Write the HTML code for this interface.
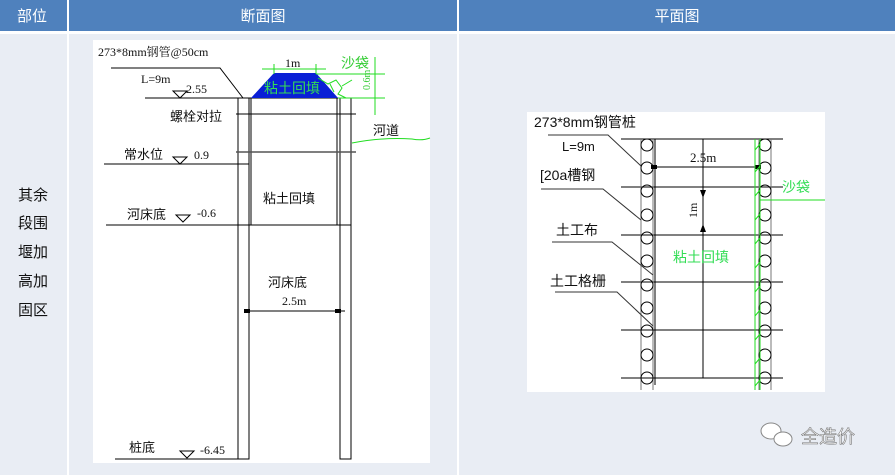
<!DOCTYPE html>
<html><head><meta charset="utf-8"><style>
html,body{margin:0;padding:0;background:#e9edf4;}
svg{display:block}
text{font-family:"Liberation Sans","Noto Sans CJK SC",sans-serif;}
.s{font-family:"Liberation Serif","Noto Serif CJK SC",serif;}
</style></head><body>
<svg width="895" height="475" viewBox="0 0 895 475" xmlns="http://www.w3.org/2000/svg">
<rect x="0" y="0" width="895" height="475" fill="#e9edf4"/>
<rect x="0" y="0" width="895" height="31" fill="#4f81bd"/>
<rect x="0" y="31" width="895" height="3" fill="#fff"/>
<rect x="67" y="0" width="2" height="475" fill="#fff"/>
<rect x="457" y="0" width="2" height="475" fill="#fff"/>
<g fill="#fff" font-size="15" text-anchor="middle">
<text x="32" y="21">部位</text><text x="263" y="21">断面图</text><text x="677" y="21">平面图</text>
</g>
<g font-size="15" fill="#111" text-anchor="middle">
<text x="33" y="200">其余</text><text x="33" y="228">段围</text><text x="33" y="257">堰加</text><text x="33" y="286">高加</text><text x="33" y="315">固区</text>
</g>
<!-- left drawing -->
<rect x="93" y="40" width="337" height="423" fill="#fff"/>
<g stroke="#000" stroke-width="1" fill="none">
<polyline points="111,68 220,68 243,98"/>
<line x1="145" y1="98" x2="360" y2="98"/>
<line x1="104" y1="164" x2="249" y2="164"/>
<line x1="106" y1="225" x2="351" y2="225"/>
<line x1="115" y1="459" x2="238" y2="459"/>
<rect x="238" y="98" width="11" height="361"/>
<rect x="340" y="98" width="11" height="361"/>
<line x1="251" y1="98" x2="251" y2="225"/>
<line x1="337" y1="98" x2="337" y2="225"/>
<line x1="236" y1="114" x2="356" y2="114"/>
<line x1="236" y1="152" x2="356" y2="152" stroke="#555" stroke-width="1.5"/>
<line x1="245" y1="311" x2="345" y2="311"/>
<polygon points="173,91 187,91 180,98"/><polygon points="173,157 187,157 180,164"/><polygon points="176,215 190,215 183,222"/><polygon points="180,451 194,451 187,458"/>
</g>
<rect x="244" y="309" width="6" height="4" fill="#000"/><rect x="335" y="309" width="6" height="4" fill="#000"/>
<polygon points="274,73 316,73 338,98 251,98" fill="#0a1fd6"/>
<g stroke="#22dd22" stroke-width="1" fill="none">
<line x1="262" y1="69" x2="326" y2="69"/><line x1="274" y1="64" x2="274" y2="74"/><line x1="316" y1="64" x2="316" y2="74"/>
<line x1="316" y1="74" x2="385" y2="74"/><line x1="338" y1="98" x2="385" y2="98"/>
<line x1="375" y1="57" x2="375" y2="115"/>
<path d="M318,78 l10,6 l8,-4 l6,8 l-4,6 l8,4 M330,84 l4,8 M342,86 l10,-6"/>
<path d="M352,143 q30,-6 60,-4 q10,2 18,-1"/>
</g>
<text x="341" y="68" font-size="14" fill="#3c3" >沙袋</text>
<text x="370" y="90" font-size="10" fill="#3c3" class="s" transform="rotate(-90 370 90)">0.6m</text>
<text x="285" y="67" font-size="12" fill="#111" class="s">1m</text>
<text x="264" y="93" font-size="14" fill="#33dd55">粘土回填</text>
<g font-size="13" fill="#111">
<text x="98" y="56" class="s" font-size="12">273*8mm钢管@50cm</text>
<text x="141" y="83" class="s" font-size="12">L=9m</text>
<text x="186" y="93" class="s" font-size="12">2.55</text>
<text x="170" y="121">螺栓对拉</text>
<text x="124" y="159">常水位</text><text x="194" y="159" class="s" font-size="12">0.9</text>
<text x="127" y="219">河床底</text><text x="197" y="217" class="s" font-size="12">-0.6</text>
<text x="373" y="135">河道</text>
<text x="263" y="203">粘土回填</text>
<text x="268" y="287">河床底</text>
<text x="282" y="305" class="s" font-size="12">2.5m</text>
<text x="129" y="452">桩底</text><text x="200" y="454" class="s" font-size="12">-6.45</text>
</g>
<!-- right drawing -->
<rect x="527" y="112" width="298" height="280" fill="#fff"/>
<g stroke="#000" stroke-width="1" fill="none">
<line x1="621" y1="139" x2="783" y2="139"/><line x1="621" y1="187" x2="783" y2="187"/><line x1="621" y1="235" x2="783" y2="235"/>
<line x1="621" y1="282" x2="783" y2="282"/><line x1="621" y1="330" x2="783" y2="330"/><line x1="621" y1="378" x2="783" y2="378"/>
<line x1="703" y1="139" x2="703" y2="378"/>
<line x1="641" y1="139" x2="641" y2="390" stroke="#777"/><line x1="653" y1="139" x2="653" y2="390" stroke="#777"/><line x1="655" y1="139" x2="655" y2="385"/>
<line x1="759" y1="139" x2="759" y2="390" stroke="#777"/><line x1="771" y1="139" x2="771" y2="390" stroke="#777"/>
<line x1="654" y1="167" x2="757" y2="167"/>
<line x1="703" y1="190" x2="703" y2="232"/>
<path d="M548,135 L608,135 L641,166 M541,189 L603,189 L641,220 M552,242 L612,242 L653,275 M555,292 L617,292 L653,326" stroke="#333"/>
<g stroke="#000">
<circle cx="647" cy="145" r="6"/><circle cx="647" cy="168" r="6"/><circle cx="647" cy="191" r="6"/><circle cx="647" cy="215" r="6"/><circle cx="647" cy="238" r="6"/><circle cx="647" cy="261" r="6"/><circle cx="647" cy="285" r="6"/><circle cx="647" cy="308" r="6"/><circle cx="647" cy="331" r="6"/><circle cx="647" cy="355" r="6"/><circle cx="647" cy="378" r="6"/>
<circle cx="765" cy="145" r="6"/><circle cx="765" cy="168" r="6"/><circle cx="765" cy="191" r="6"/><circle cx="765" cy="215" r="6"/><circle cx="765" cy="238" r="6"/><circle cx="765" cy="261" r="6"/><circle cx="765" cy="285" r="6"/><circle cx="765" cy="308" r="6"/><circle cx="765" cy="331" r="6"/><circle cx="765" cy="355" r="6"/><circle cx="765" cy="378" r="6"/>
</g>
</g>
<polygon points="700,190 706,190 703,198" fill="#000"/><polygon points="700,232 706,232 703,224" fill="#000"/>
<rect x="651" y="165" width="6" height="4" fill="#000"/><rect x="755" y="165" width="6" height="4" fill="#000"/>
<g stroke="#22dd22" stroke-width="1">
<line x1="755" y1="139" x2="755" y2="390"/><line x1="760" y1="139" x2="760" y2="390"/>
<line x1="760" y1="200" x2="825" y2="200"/>
<path d="M755,150 l5,-6 M755,172 l5,-6 M755,196 l5,-6 M755,220 l5,-6 M755,244 l5,-6 M755,268 l5,-6 M755,292 l5,-6 M755,316 l5,-6 M755,340 l5,-6 M755,364 l5,-6 M755,386 l5,-6" fill="none"/>
</g>
<g font-size="14" fill="#111">
<text x="534" y="127">273*8mm钢管桩</text>
<text x="562" y="151" font-size="13">L=9m</text>
<text x="690" y="162" class="s" font-size="13">2.5m</text>
<text x="540" y="180">[20a槽钢</text>
<text x="556" y="235">土工布</text>
<text x="550" y="286">土工格栅</text>
<text x="697" y="218" font-size="12" class="s" transform="rotate(-90 697 218)">1m</text>
</g>
<text x="673" y="262" font-size="14" fill="#33dd55">粘土回填</text>
<text x="782" y="192" font-size="14" fill="#33dd55">沙袋</text>
<!-- watermark -->
<g fill="#fff" stroke="#888" stroke-width="1">
<ellipse cx="771" cy="431" rx="10" ry="8"/><ellipse cx="783" cy="439" rx="9" ry="7"/>
</g>
<text x="801" y="443" font-size="18" fill="#fff" stroke="#777" stroke-width="0.6">全造价</text>
</svg>
</body></html>
